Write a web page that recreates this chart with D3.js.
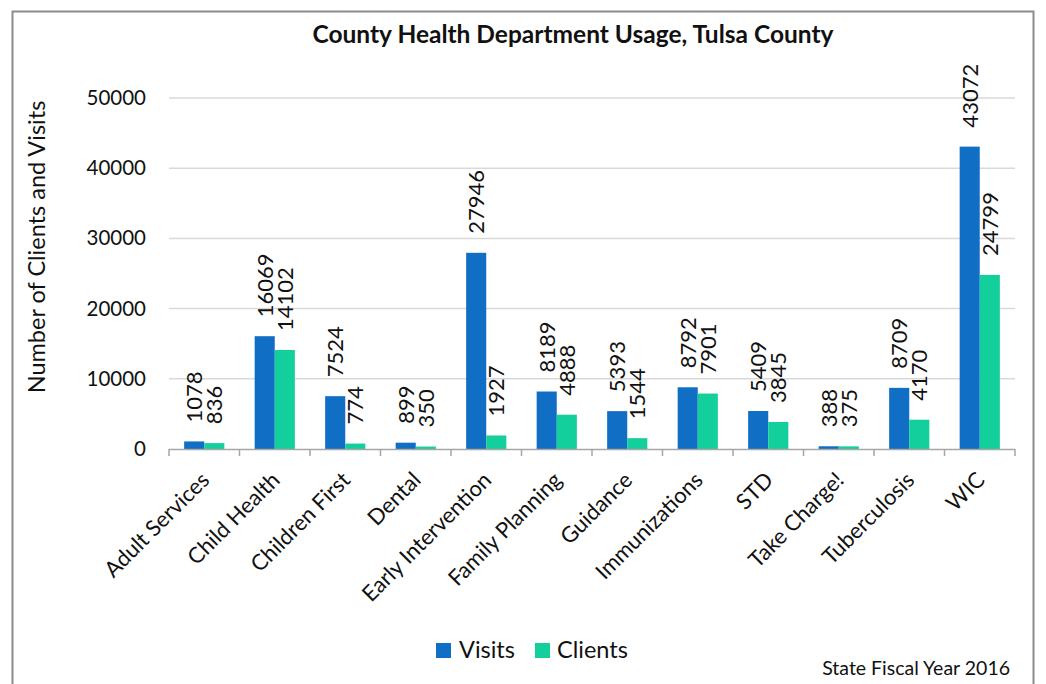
<!DOCTYPE html>
<html>
<head>
<meta charset="utf-8">
<script src="https://cdn.jsdelivr.net/npm/d3@7"></script>
<style>
  html, body { margin: 0; padding: 0; background: #fff; }
  svg { display: block; font-family: Lato, "Noto Sans", sans-serif; }
</style>
</head>
<body>
<svg id="chart" width="1046" height="684"></svg>
<script>
// Program areas and yearly counts
const categories = ["Adult Services", "Child Health", "Children First", "Dental",
  "Early Intervention", "Family Planning", "Guidance", "Immunizations", "STD",
  "Take Charge!", "Tuberculosis", "WIC"];
const visits  = [1078, 16069, 7524, 899, 27946, 8189, 5393, 8792, 5409, 388, 8709, 43072];
const clients = [836, 14102, 774, 350, 1927, 4888, 1544, 7901, 3845, 375, 4170, 24799];
const seriesNames = ["Visits", "Clients"];
const yTicks = [0, 10000, 20000, 30000, 40000, 50000];

const colors = { Visits: "#106EC5", Clients: "#13CF9B" };

const svg = d3.select("#chart");

// outer frame
svg.append("rect")
  .attr("x", 12.5).attr("y", 11.5)
  .attr("width", 1021).attr("height", 690)
  .attr("fill", "none").attr("stroke", "#8c8c8c").attr("stroke-width", 2);

const plot = { left: 169, right: 1015, top: 98, bottom: 449 };

const x0 = d3.scaleBand().domain(categories).range([plot.left, plot.right]);
const pad = x0.bandwidth() * 0.215;
const x1 = d3.scaleBand().domain(seriesNames).range([pad, x0.bandwidth() - pad]);
const y = d3.scaleLinear().domain([0, 50000]).range([plot.bottom, plot.top]);

// gridlines
svg.append("g")
  .selectAll("line")
  .data(yTicks.filter(d => d > 0))
  .join("line")
  .attr("x1", plot.left).attr("x2", plot.right)
  .attr("y1", d => y(d)).attr("y2", d => y(d))
  .attr("stroke", "#d9d9d9").attr("stroke-width", 1.5);

// y axis labels
const yAxis = svg.append("g")
  .attr("transform", `translate(${plot.left},0)`)
  .call(d3.axisLeft(y).tickValues(yTicks).tickSize(0).tickPadding(23).tickFormat(d3.format("d")));
yAxis.select(".domain").remove();
yAxis.selectAll("text")
  .attr("font-size", 20.5).attr("fill", "#111")
  .style("font-family", "Lato, sans-serif");

// y axis title
svg.append("text")
  .attr("transform", `translate(45,247) rotate(-90)`)
  .attr("text-anchor", "middle")
  .attr("font-size", 23.5).attr("fill", "#111")
  .text("Number of Clients and Visits");

// bars
const rows = categories.map((c, i) => ({ category: c, values: [
  { key: "Visits", value: visits[i] },
  { key: "Clients", value: clients[i] }
]}));

const groups = svg.append("g").selectAll("g")
  .data(rows).join("g")
  .attr("transform", d => `translate(${x0(d.category)},0)`);

groups.selectAll("rect")
  .data(d => d.values).join("rect")
  .attr("x", d => x1(d.key))
  .attr("width", x1.bandwidth())
  .attr("y", d => y(d.value))
  .attr("height", d => y(0) - y(d.value))
  .attr("fill", d => colors[d.key]);

// value labels, rotated above each bar
groups.selectAll("text.value")
  .data(d => d.values).join("text")
  .attr("class", "value")
  .attr("transform", d => `translate(${x1(d.key) + x1.bandwidth() / 2 + 8},${y(d.value) - 19}) rotate(-90)`)
  .attr("text-anchor", "start")
  .attr("font-size", 22).attr("fill", "#111")
  .text(d => d.value);

// x axis with boundary ticks
const xAxisG = svg.append("g");
xAxisG.append("line")
  .attr("x1", plot.left).attr("x2", plot.right)
  .attr("y1", plot.bottom + 0.5).attr("y2", plot.bottom + 0.5)
  .attr("stroke", "#a6a6a6").attr("stroke-width", 1.5);
const bounds = categories.map(c => x0(c)).concat([plot.right]);
xAxisG.selectAll("line.tick")
  .data(bounds).join("line")
  .attr("class", "tick")
  .attr("x1", d => d).attr("x2", d => d)
  .attr("y1", plot.bottom).attr("y2", plot.bottom + 7)
  .attr("stroke", "#a6a6a6").attr("stroke-width", 1.5);

// category labels at 45 degrees
xAxisG.selectAll("text")
  .data(categories).join("text")
  .attr("transform", d => `translate(${x0(d) + x0.bandwidth() / 2 + 1},${plot.bottom + 27}) rotate(-45)`)
  .attr("text-anchor", "end")
  .attr("dy", "0.35em")
  .attr("font-size", 22).attr("fill", "#111")
  .text(d => d);

// title
svg.append("text")
  .attr("x", 573).attr("y", 43)
  .attr("text-anchor", "middle")
  .attr("font-size", 24.5).attr("font-weight", "bold").attr("fill", "#111")
  .text("County Health Department Usage, Tulsa County");

// legend
const legend = svg.append("g");
const legendItems = [
  { key: "Visits", x: 436, tx: 459 },
  { key: "Clients", x: 535, tx: 557 }
];
legend.selectAll("rect")
  .data(legendItems).join("rect")
  .attr("x", d => d.x).attr("y", 643)
  .attr("width", 15).attr("height", 15)
  .attr("fill", d => colors[d.key]);
legend.selectAll("text")
  .data(legendItems).join("text")
  .attr("x", d => d.tx).attr("y", 658)
  .attr("font-size", 23.5).attr("fill", "#111")
  .text(d => d.key);

// footnote
svg.append("text")
  .attr("x", 1010).attr("y", 675)
  .attr("text-anchor", "end")
  .attr("font-size", 19.5).attr("fill", "#111")
  .text("State Fiscal Year 2016");
</script>
</body>
</html>
